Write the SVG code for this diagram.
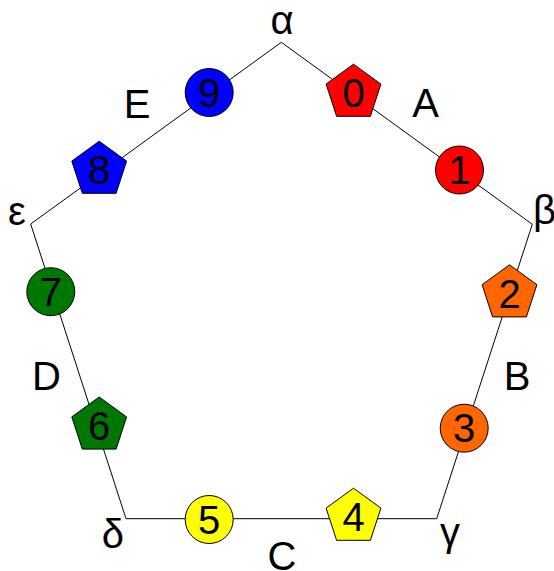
<svg xmlns="http://www.w3.org/2000/svg" width="554" height="571" viewBox="0 0 554 571">
<defs>
<style>
.edge{fill:none;stroke:#000;stroke-width:1}
.n{stroke:#000;stroke-width:1}
text{font-family:"Liberation Sans",Arial,sans-serif;font-size:40px;fill:#000;text-anchor:middle}
.red{fill:#ff0000}.orange{fill:#ff6600}.yellow{fill:#ffff00}.green{fill:#007700}.blue{fill:#0000ff}
</style>
<polygon id="pent" points="0,-28.8 27.4,-8.9 16.9,23.3 -16.9,23.3 -27.4,-8.9"/>
</defs>
<rect width="554" height="571" fill="#fff"/>
<g id="connectors">
<polygon class="edge" points="281.3,42.3 532.3,224.3 436.7,518.7 126,518.7 30.7,224"/>
</g>
<g id="labels">
<text x="282" y="34">α</text>
<text x="425.5" y="117">A</text>
<text x="533" y="224" text-anchor="start" style="text-anchor:start">β</text>
<text x="517" y="390">B</text>
<text x="450" y="546">γ</text>
<text x="282" y="570">C</text>
<text x="113" y="548">δ</text>
<text x="46.5" y="390">D</text>
<text x="17" y="225">ε</text>
<text x="137" y="117.5">E</text>
</g>
<g id="node0"><use href="#pent" class="n red" x="353.5" y="93"/><text x="353.5" y="107">0</text></g>
<g id="node1"><circle class="n red" cx="459.5" cy="170" r="24"/><text x="459.5" y="184">1</text></g>
<g id="node2"><use href="#pent" class="n orange" x="509.5" y="293.6"/><text x="509.5" y="308">2</text></g>
<g id="node3"><circle class="n orange" cx="464.2" cy="428.2" r="24"/><text x="464.2" y="442">3</text></g>
<g id="node4"><use href="#pent" class="n yellow" x="353.5" y="517"/><text x="353.5" y="531">4</text></g>
<g id="node5"><circle class="n yellow" cx="209.2" cy="519.5" r="24"/><text x="209.2" y="533.5">5</text></g>
<g id="node6"><use href="#pent" class="n green" x="99.2" y="425.8"/><text x="99.2" y="440">6</text></g>
<g id="node7"><circle class="n green" cx="50.8" cy="291.7" r="24"/><text x="50.8" y="306">7</text></g>
<g id="node8"><use href="#pent" class="n blue" x="99.2" y="170"/><text x="99.2" y="184">8</text></g>
<g id="node9"><circle class="n blue" cx="209.2" cy="92.5" r="24"/><text x="209.2" y="106.5">9</text></g>
</svg>
